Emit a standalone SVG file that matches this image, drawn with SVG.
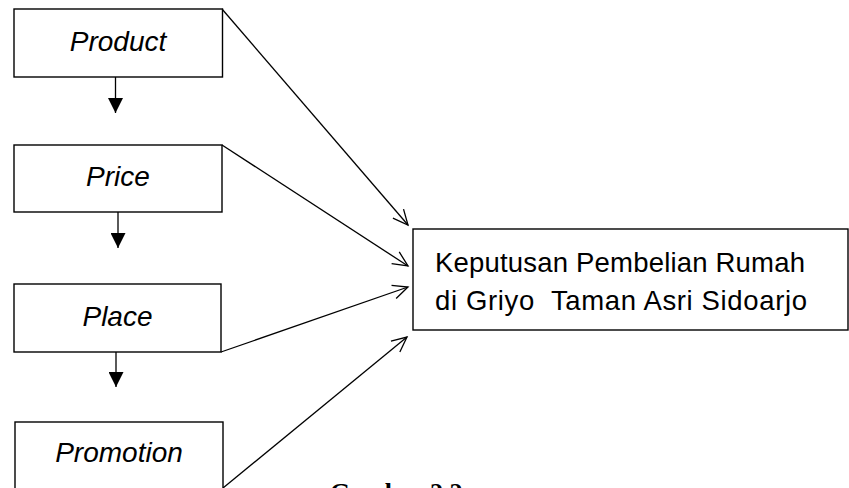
<svg xmlns="http://www.w3.org/2000/svg" width="849" height="488" viewBox="0 0 849 488">
<style>
.box{fill:#fff;stroke:#000;stroke-width:1.4}
.lbl{font-family:"Liberation Sans",Arial,sans-serif;font-style:italic;font-size:28px;fill:#000;text-anchor:middle}
.txt{font-family:"Liberation Sans",Arial,sans-serif;font-size:27.5px;fill:#000;white-space:pre}
.cap{font-family:"Liberation Serif","Times New Roman",serif;font-weight:bold;font-size:26px;fill:#000}
.ln{stroke:#000;stroke-width:1.3;fill:none}
</style>
<defs>
<marker id="open" markerWidth="20" markerHeight="20" refX="16" refY="8" orient="auto" markerUnits="userSpaceOnUse">
<path d="M1,1 L16,8 L1,15" fill="none" stroke="#000" stroke-width="1.3"/>
</marker>
<marker id="solid" markerWidth="16" markerHeight="18" refX="7.5" refY="15" orient="0" markerUnits="userSpaceOnUse">
<path d="M0,0 L15,0 L7.5,15 Z" fill="#000"/>
</marker>
</defs>
<g id="connectors">
<line class="ln" x1="115.5" y1="77" x2="115.5" y2="113" marker-end="url(#solid)"/>
<line class="ln" x1="118" y1="212" x2="118" y2="248" marker-end="url(#solid)"/>
<line class="ln" x1="116" y1="352" x2="116" y2="387" marker-end="url(#solid)"/>
<line class="ln" x1="222" y1="9" x2="408" y2="225" marker-end="url(#open)"/>
<line class="ln" x1="222" y1="145" x2="408" y2="266" marker-end="url(#open)"/>
<line class="ln" x1="221" y1="352" x2="408" y2="287" marker-end="url(#open)"/>
<line class="ln" x1="223" y1="488" x2="407" y2="337" marker-end="url(#open)"/>
</g>
<g id="product">
<rect class="box" x="14" y="9" width="208.5" height="68"/>
<text class="lbl" x="118" y="51">Product</text>
</g>
<g id="price">
<rect class="box" x="14" y="145" width="208" height="67"/>
<text class="lbl" x="118" y="186">Price</text>
</g>
<g id="place">
<rect class="box" x="14" y="284" width="207" height="68"/>
<text class="lbl" x="117.5" y="326">Place</text>
</g>
<g id="promotion">
<rect class="box" x="15" y="422" width="208" height="68"/>
<text class="lbl" x="119" y="462">Promotion</text>
</g>
<g id="keputusan">
<rect class="box" x="413" y="229" width="435" height="101"/>
<text class="txt" x="435" y="272" textLength="370" lengthAdjust="spacing">Keputusan Pembelian Rumah</text>
<text class="txt" x="435" y="310" textLength="372" lengthAdjust="spacing">di Griyo  Taman Asri Sidoarjo</text>
</g>
<text class="cap" x="330" y="501">Gambar 2.2</text>
</svg>
